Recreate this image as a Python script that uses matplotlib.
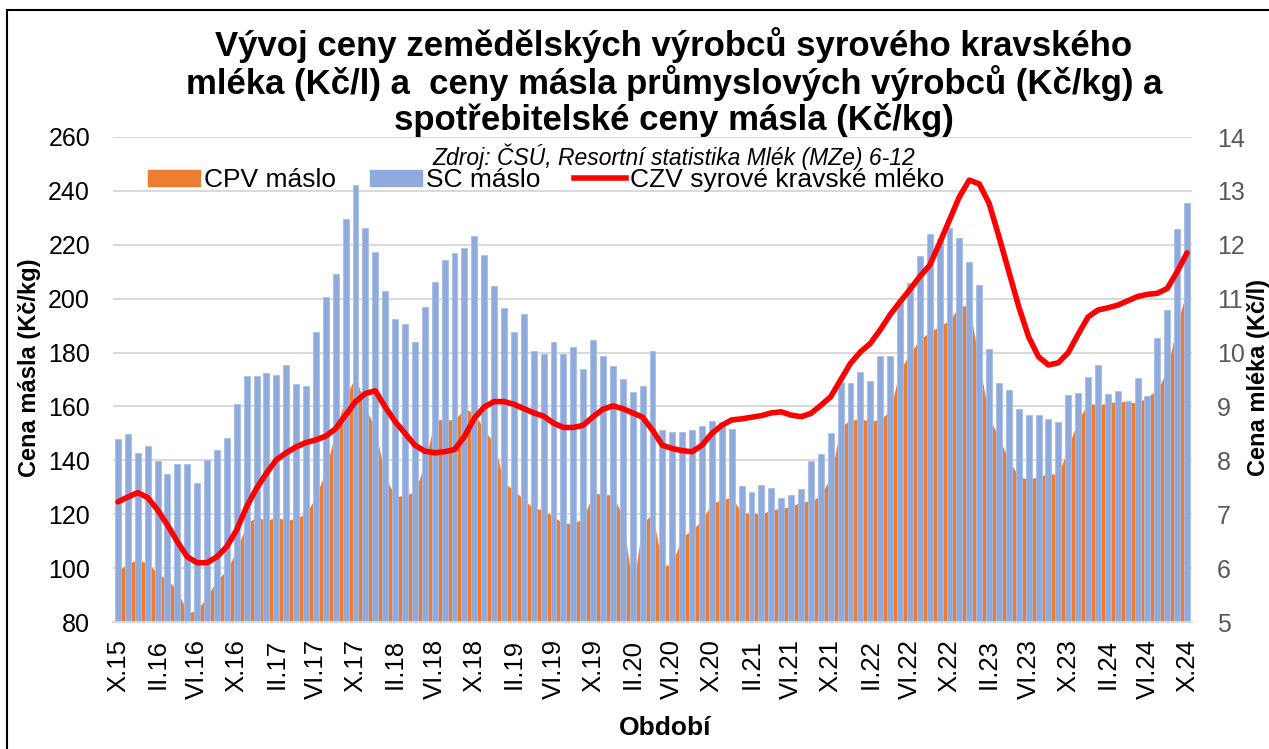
import matplotlib
matplotlib.use("Agg")
import matplotlib.pyplot as plt
from matplotlib.lines import Line2D
from matplotlib.patches import Patch
import numpy as np

plt.rcParams['font.family'] = ['Liberation Sans', 'DejaVu Sans']

# ---------------- data ----------------
tick_labels = ["X.15", "II.16", "VI.16", "X.16", "II.17", "VI.17", "X.17", "II.18", "VI.18", "X.18",
               "II.19", "VI.19", "X.19", "II.20", "VI.20", "X.20", "II.21", "VI.21", "X.21", "II.22",
               "VI.22", "X.22", "II.23", "VI.23", "X.23", "II.24", "VI.24", "X.24"]

# SC máslo (spotřebitelská cena másla, Kč/kg) - monthly X.15 .. X.24
sc_maslo = [148.0, 149.9, 142.9, 145.2, 139.8, 134.9, 138.8, 138.5, 131.7, 140.3,
            144.0, 148.4, 161.0, 171.2, 171.2, 172.5, 171.7, 175.4, 168.5, 167.5,
            187.5, 200.7, 209.3, 229.6, 242.0, 226.1, 217.2, 202.7, 192.6, 190.5,
            183.9, 196.9, 206.1, 214.4, 216.9, 218.9, 223.4, 216.3, 204.8, 196.7,
            187.6, 194.2, 180.7, 179.4, 184.0, 179.6, 182.2, 173.8, 184.7, 178.7,
            175.0, 170.2, 165.5, 167.5, 180.7, 151.4, 150.6, 150.6, 151.3, 152.9,
            154.6, 154.4, 151.8, 130.5, 128.4, 131.0, 129.7, 126.1, 127.3, 129.3,
            139.6, 142.2, 150.2, 169.1, 168.7, 172.8, 169.3, 178.6, 178.6, 199.5,
            205.7, 216.0, 223.9, 222.2, 226.4, 222.4, 213.6, 205.1, 181.3, 168.8,
            166.1, 159.1, 156.8, 156.9, 155.5, 154.1, 164.3, 165.0, 170.8, 175.3,
            164.5, 165.7, 162.2, 170.5, 164.0, 185.5, 195.8, 226.0, 235.6]

# CPV máslo (cena průmyslových výrobců másla, Kč/kg)
cpv_maslo = [98.8, 101.8, 103.0, 101.8, 98.1, 95.6, 91.9, 83.2, 84.5, 89.4,
             95.6, 99.3, 106.7, 116.6, 119.1, 117.6, 119.0, 117.6, 118.5, 120.3,
             126.5, 136.4, 151.3, 163.6, 171.1, 159.9, 151.3, 133.9, 126.5, 127.1,
             128.4, 138.9, 155.0, 155.2, 155.0, 159.3, 157.5, 151.3, 146.3, 131.5,
             129.0, 125.3, 122.2, 121.6, 119.1, 116.6, 116.6, 118.5, 127.8, 127.4,
             127.1, 119.1, 91.9, 116.6, 120.3, 100.5, 101.8, 111.7, 114.1, 117.9,
             124.1, 125.3, 126.5, 120.3, 120.5, 120.1, 121.6, 122.2, 122.8, 124.7,
             124.7, 127.1, 133.9, 152.5, 155.0, 155.2, 154.8, 154.8, 158.7, 173.5,
             179.7, 184.7, 187.8, 189.6, 192.1, 197.0, 197.7, 176.0, 156.2, 148.2,
             140.1, 133.9, 133.0, 133.9, 135.2, 134.6, 145.1, 155.0, 161.2, 160.6,
             161.2, 161.8, 161.8, 161.2, 163.6, 166.1, 173.5, 190.9, 203.2]

# CZV syrové kravské mléko (Kč/l)
czv_mleko = [7.23, 7.32, 7.40, 7.31, 7.08, 6.80, 6.49, 6.21, 6.10, 6.10,
             6.21, 6.40, 6.71, 7.14, 7.48, 7.76, 8.01, 8.14, 8.25, 8.33,
             8.38, 8.45, 8.59, 8.84, 9.09, 9.24, 9.29, 8.99, 8.72, 8.50,
             8.28, 8.17, 8.14, 8.16, 8.20, 8.44, 8.78, 8.99, 9.09, 9.09,
             9.04, 8.96, 8.88, 8.82, 8.69, 8.61, 8.61, 8.65, 8.81, 8.95,
             9.01, 8.96, 8.88, 8.80, 8.56, 8.28, 8.22, 8.18, 8.16, 8.28,
             8.50, 8.65, 8.75, 8.77, 8.80, 8.83, 8.88, 8.90, 8.84, 8.81,
             8.87, 9.02, 9.18, 9.49, 9.80, 10.01, 10.17, 10.42, 10.70, 10.94,
             11.17, 11.41, 11.62, 12.03, 12.46, 12.89, 13.20, 13.13, 12.77, 12.15,
             11.50, 10.85, 10.29, 9.92, 9.77, 9.81, 10.00, 10.34, 10.66, 10.79,
             10.83, 10.88, 10.96, 11.04, 11.08, 11.10, 11.19, 11.50, 11.85]

title = ("Vývoj ceny zemědělských výrobců syrového kravského\n"
         "mléka (Kč/l) a  ceny másla průmyslových výrobců (Kč/kg) a\n"
         "spotřebitelské ceny másla (Kč/kg)")
subtitle = "Zdroj: ČSÚ, Resortní statistika Mlék (MZe) 6-12"

ORANGE = "#ED7D31"
BLUE = "#8FAADC"
RED = "#FF0000"
GRID = "#D9D9D9"

W, H = 1269, 749
fig = plt.figure(figsize=(W / 100, H / 100), dpi=100)
fig.patch.set_facecolor("white")

ax = fig.add_axes([113 / W, 1 - 622 / H, (1192 - 113) / W, (622 - 137) / H])
x = np.arange(len(sc_maslo))

ax.fill_between(x, 80, cpv_maslo, color=ORANGE, linewidth=0, zorder=1)
ax.bar(x, sc_maslo, width=0.6, color=BLUE, edgecolor="#A8BFE6", linewidth=0.6, zorder=2)

ax.set_xlim(-0.5, len(sc_maslo) - 0.5)
ax.set_ylim(80, 260)
ax.set_yticks(np.arange(80, 261, 20))
ax.set_xticks(np.arange(0, len(sc_maslo), 4))
ax.set_xticklabels(tick_labels, rotation=90, fontsize=18.5)
ax.grid(axis="y", color=GRID, linewidth=1.4, zorder=0)
ax.set_axisbelow(True)
for s in ["top", "left", "right"]:
    ax.spines[s].set_visible(False)
ax.spines["bottom"].set_color(GRID)
ax.spines["bottom"].set_linewidth(1.4)
ax.spines["bottom"].set_zorder(3)
ax.tick_params(axis="y", length=0, labelsize=18, pad=16.5, labelcolor="#000000")
ax.tick_params(axis="x", length=0, pad=12.5, labelcolor="#000000")

ax2 = ax.twinx()
ax2.plot(x, czv_mleko, color=RED, linewidth=4, solid_joinstyle="round",
         solid_capstyle="round", zorder=5)
ax2.set_ylim(5, 14)
ax2.set_yticks(np.arange(5, 15, 1))
for s in ["top", "left", "right", "bottom"]:
    ax2.spines[s].set_visible(False)
ax2.tick_params(axis="y", length=0, labelsize=18, pad=18, labelcolor="#595959")

# texts
fig.text(674 / W, 1 - 82 / H, title, ha="center", va="center", fontsize=25,
         fontweight="bold", linespacing=1.07)
fig.text(674 / W, 1 - 157 / H, subtitle, ha="center", va="center", fontsize=16.5,
         fontstyle="italic")
fig.text(30 / W, 1 - 368 / H, "Cena másla (Kč/kg)", rotation=90, ha="center", va="center",
         fontsize=17, fontweight="bold")
fig.text(1259 / W, 1 - 378 / H, "Cena mléka (Kč/l)", rotation=90, ha="center", va="center",
         fontsize=17, fontweight="bold")
fig.text(665 / W, 1 - 728 / H, "Období", ha="center", va="center", fontsize=19,
         fontweight="bold")

handles = [Patch(facecolor=ORANGE, edgecolor=ORANGE),
           Patch(facecolor=BLUE, edgecolor=BLUE),
           Line2D([0], [0], color=RED, linewidth=4)]
labels = ["CPV máslo", "SC máslo", "CZV syrové kravské mléko"]
leg = ax2.legend(handles, labels, loc="center left", bbox_to_anchor=(148 / W, 1 - 180 / H),
                 bbox_transform=fig.transFigure, ncol=3, frameon=False, fontsize=19,
                 borderaxespad=0, borderpad=0, handlelength=1.97, handleheight=0.55,
                 handletextpad=0.15, columnspacing=1.29)

# outer border of chart area
fig.add_artist(Line2D([7 / W, 7 / W], [0, 1 - 10 / H], transform=fig.transFigure,
                      color="black", linewidth=1.5))
fig.add_artist(Line2D([7 / W, 1], [1 - 10 / H, 1 - 10 / H], transform=fig.transFigure,
                      color="black", linewidth=1.5))

fig.savefig("out.png", dpi=100)
